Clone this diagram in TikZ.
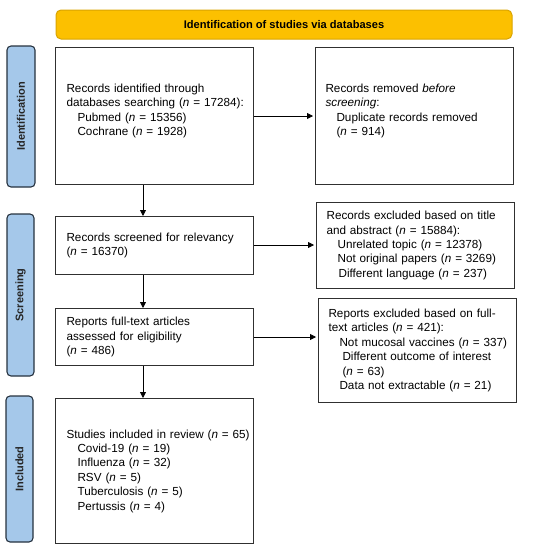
\documentclass[tikz,border=0pt]{standalone}
\usepackage{fontspec}
\setmainfont{Liberation Sans}
\usetikzlibrary{arrows.meta,positioning}
\definecolor{bannerfill}{HTML}{FCC000}
\definecolor{bannerdraw}{HTML}{D9A400}
\definecolor{tabfill}{HTML}{A5C8EA}
\definecolor{tabdraw}{HTML}{26323F}
\definecolor{boxdraw}{HTML}{303030}
\tikzset{
  box/.style={draw=boxdraw, line width=1.1pt, align=left, anchor=north west,
    text width=196pt, inner xsep=1pt, inner ysep=2pt,
    execute at begin node={\leftskip=10pt},
    font=\fontsize{11.7}{14.4}\selectfont},
  rbox/.style={box, execute at begin node={\leftskip=9pt}},
  tab/.style={draw=tabdraw, fill=tabfill, line width=1.1pt, rounded corners=4pt},
  tablabel/.style={rotate=90, font=\bfseries\fontsize{11}{13}\selectfont, text=black!85},
  arr/.style={draw=black, line width=0.8pt, -{Triangle[length=6pt,width=6pt]}},
}
\newcommand{\ind}{\hspace*{11pt}}
\newcommand{\nn}{\textit{n}}
\begin{document}
\begin{tikzpicture}[x=1pt,y=-1pt]
\useasboundingbox (0,0) rectangle (550,552);
% banner
\draw[draw=bannerdraw, fill=bannerfill, line width=1pt, rounded corners=5pt] (56,10) rectangle (512,39);
\node[font=\bfseries\fontsize{11.1}{13}\selectfont] (banner) at (284,25) {Identification of studies via databases};
% tabs
\draw[tab] (7,46) rectangle (35,187);
\node[tablabel] (t1) at (21,116.5) {Identification};
\draw[tab] (7,214) rectangle (34,376);
\node[tablabel] (t2) at (20.5,295) {Screening};
\draw[tab] (6,396) rectangle (33,542);
\node[tablabel] (t3) at (19.5,469) {Included};
% boxes
\node[box, minimum height=137pt] (b1) at (55,47) {Records identified through\\databases searching (\nn{} = 17284):\\\ind Pubmed (\nn{} = 15356)\\\ind Cochrane (\nn{} = 1928)\vspace{10pt}};
\node[rbox, minimum height=137pt] (b2) at (315,47) {Records removed \textit{before}\\\textit{screening}:\\\ind Duplicate records removed\\\ind (\nn{} = 914)\vspace{10pt}};
\node[box, minimum height=58pt] (b3) at (55,216) {Records screened for relevancy\\(\nn{} = 16370)};
\node[rbox, minimum height=86pt] (b4) at (316,202) {Records excluded based on title\\and abstract (\nn{} = 15884):\\\ind Unrelated topic (\nn{} = 12378)\\\ind Not original papers (\nn{} = 3269)\\\ind\hspace*{1pt}Different language (\nn{} = 237)};
\node[rbox, minimum height=104pt] (b6) at (318,298) {Reports excluded based on full-\\text articles (\nn{} = 421):\\\ind Not mucosal vaccines (\nn{} = 337)\\\ind\hspace*{3pt}Different outcome of interest\\\ind\hspace*{3pt}(\nn{} = 63)\\\ind Data not extractable (\nn{} = 21)};
\node[box, minimum height=57pt] (b5) at (55,308) {Reports full-text articles\\assessed for eligibility\\(\nn{} = 486)};
\node[box, minimum height=145pt] (b7) at (55,398) {Studies included in review (\nn{} = 65)\\\ind Covid-19 (\nn{} = 19)\\\ind Influenza (\nn{} = 32)\\\ind RSV (\nn{} = 5)\\\ind Tuberculosis (\nn{} = 5)\\\ind Pertussis (\nn{} = 4)};
% connectors
\draw[arr, shorten >=2pt] (b1.east |- 0,116) -- (b2.west |- 0,116);
\draw[arr] (143,0 |- b1.south) -- (143,0 |- b3.north);
\draw[arr, shorten >=2pt] (b3.east |- 0,245) -- (b4.west |- 0,245);
\draw[arr] (143,0 |- b3.south) -- (143,0 |- b5.north);
\draw[arr, shorten >=2pt] (b5.east |- 0,337) -- (b6.west |- 0,337);
\draw[arr] (143,0 |- b5.south) -- (143,0 |- b7.north);
\end{tikzpicture}
\end{document}
